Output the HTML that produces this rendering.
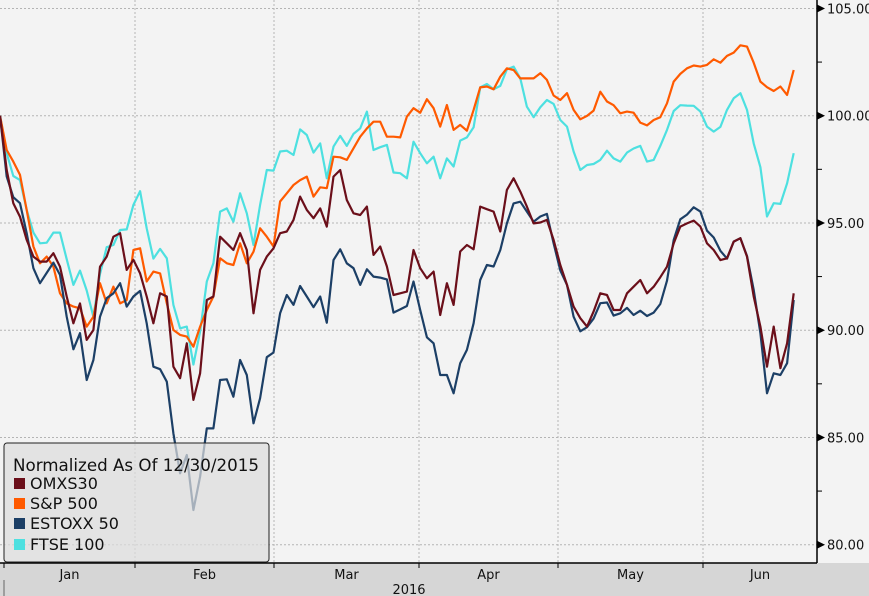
<!DOCTYPE html>
<html><head><meta charset="utf-8"><style>
html,body{margin:0;padding:0;background:#f3f3f3;}
svg{display:block;font-family:"DejaVu Sans","Liberation Sans",sans-serif;}
</style></head><body>
<svg id="chart" width="869" height="596" viewBox="0 0 869 596">
<rect x="0" y="0" width="869" height="596" fill="#f3f3f3"/>
<rect x="0" y="563" width="869" height="33" fill="#d6d6d6"/>
<g id="grid"></g>
<g id="series"></g>
<g id="axes"></g>
<g id="legend">
<rect x="4" y="443" width="265" height="119" rx="3" fill="#dcdcdc" fill-opacity="0.72" stroke="#222" stroke-width="1"/>
<text x="13" y="471" font-size="17" fill="#111" textLength="246" lengthAdjust="spacingAndGlyphs">Normalized As Of 12/30/2015</text>
<g><rect x="14" y="478" width="11" height="11" fill="#6b0f1a"/><text x="30" y="489" font-size="16" fill="#111">OMXS30</text></g>
<g><rect x="14" y="498" width="11" height="11" fill="#ff5a00"/><text x="30" y="509" font-size="16" fill="#111">S&amp;P 500</text></g>
<g><rect x="14" y="518" width="11" height="11" fill="#1c3f66"/><text x="30" y="529" font-size="16" fill="#111">ESTOXX 50</text></g>
<g><rect x="14" y="539" width="11" height="11" fill="#4de0e0"/><text x="30" y="550" font-size="16" fill="#111">FTSE 100</text></g>
</g>
</svg>
<script>
const omxs30 = [100,97.47,95.92,95.29,94.21,93.43,93.20,93.20,93.59,92.96,91.57,90.32,91.25,89.55,90.01,92.96,93.43,94.36,94.52,92.81,93.28,92.65,91.57,90.32,91.72,91.57,88.30,87.76,89.39,86.75,87.99,91.41,91.57,94.36,94.05,93.74,94.52,93.74,90.79,92.81,93.43,93.82,94.52,
94.60,95.14,96.23,95.61,95.22,95.68,94.83,97.16,97.47,96.07,95.45,95.37,95.76,93.51,93.90,92.97,91.64,91.72,91.80,93.74,92.89,92.42,92.73,90.71,92.19,91.18,93.67,93.97,93.77,95.76,95.64,95.53,94.60,96.54,97.08,96.46,95.76,94.98,95.02,95.14,
94.21,93.04,92.11,91.10,90.56,90.17,90.87,91.72,91.64,90.94,90.94,91.72,92.03,92.34,91.72,92.03,92.47,92.96,94.05,94.83,94.98,95.11,94.83,94.05,93.74,93.27,93.35,94.13,94.29,93.43,91.57,90.17,88.30,90.17,88.23,89.39,91.72];
const sp500 = [100,98.40,97.86,97.24,95.60,93.90,93.12,93.43,92.96,91.72,91.25,91.10,91.02,90.17,90.63,92.19,91.25,92.03,91.25,91.41,93.74,93.82,92.27,92.73,92.65,91.25,90.01,89.78,89.70,89.23,90.17,90.94,91.57,93.35,93.12,93.04,94.05,93.12,93.66,94.75,94.36,93.90,96.0,
96.38,96.77,97.00,97.16,96.23,96.66,96.62,98.09,98.06,97.94,98.48,99.02,99.41,99.72,99.72,99.02,99.02,98.99,99.96,100.35,100.14,100.77,100.35,99.49,100.50,99.34,99.57,99.30,100.27,101.32,101.36,101.23,101.82,102.21,102.13,101.74,101.74,101.74,101.98,101.67,
100.94,100.73,101.05,100.27,99.83,99.99,100.24,101.12,100.66,100.49,100.11,100.19,100.14,99.68,99.55,99.80,99.93,100.58,101.59,101.95,102.21,102.34,102.29,102.37,102.63,102.47,102.79,102.94,103.28,103.22,102.47,101.59,101.33,101.15,101.36,100.97,102.13];
const estoxx50 = [100,97.16,96.20,95.92,94.52,92.89,92.19,92.67,93.15,92.58,90.63,89.11,89.86,87.68,88.61,90.63,91.49,91.72,92.19,91.10,91.57,91.83,90.32,88.30,88.18,87.60,85.19,83.33,84.18,81.62,83.17,85.42,85.42,87.68,87.71,86.90,88.61,87.91,85.66,86.83,88.74,88.96,90.79,
91.64,91.18,92.06,91.57,91.07,91.57,90.35,93.27,93.77,93.12,92.89,92.11,92.84,92.50,92.45,92.37,90.82,90.97,91.13,92.27,90.94,89.67,89.39,87.91,87.91,87.06,88.46,89.08,90.32,92.34,93.04,92.97,93.74,94.98,95.91,95.99,95.53,95.06,95.30,95.42,
94.05,92.79,92.11,90.63,89.95,90.14,90.54,91.26,91.29,90.68,90.79,91.04,90.71,90.91,90.66,90.82,91.22,92.31,94.21,95.17,95.39,95.73,95.53,94.64,94.32,93.70,93.34,94.13,94.29,93.46,91.88,89.86,87.06,87.99,87.91,88.46,91.41];
const ftse100 = [100,98.25,97.19,97.00,95.61,94.55,94.05,94.08,94.55,94.55,93.31,92.11,92.78,91.85,90.63,92.62,93.87,93.97,94.67,94.70,95.84,96.48,94.75,93.34,93.79,93.35,91.18,90.09,90.17,88.40,89.93,92.27,93.12,95.53,95.68,95.06,96.38,95.45,93.97,95.84,97.47,97.44,98.33,
98.37,98.17,99.36,99.10,98.28,98.71,97.08,98.56,99.06,98.59,99.15,99.41,100.19,98.40,98.53,98.64,97.35,97.32,97.08,98.79,98.25,97.78,98.09,97.08,98.01,97.63,98.84,98.99,99.46,101.32,101.48,101.23,101.39,102.16,102.29,101.74,100.42,99.93,100.39,100.73,
100.55,99.80,99.49,98.33,97.47,97.70,97.75,97.94,98.37,98.01,97.86,98.28,98.47,98.59,97.86,97.94,98.59,99.34,100.22,100.49,100.47,100.46,100.19,99.49,99.26,99.48,100.27,100.81,101.05,100.27,98.71,97.60,95.30,95.92,95.89,96.85,98.25];
const yTicks = [80,85,90,95,100,105];
const yTickLabels = ["80.00","85.00","90.00","95.00","100.00","105.00"];
const monthLabels = ["Jan","Feb","Mar","Apr","May","Jun"];
const monthStartIdx = [0,20,40,62,83,105];
const yearLabel = "2016";

const NS = "http://www.w3.org/2000/svg";
const plotRight = 817, plotBottom = 563;
function y(v){ return 544.7 - (v - 80) * 21.45; }
function x(i){ return i * 6.67; }
function mk(tag, attrs, parent){ const e = document.createElementNS(NS, tag); for (const k in attrs) e.setAttribute(k, attrs[k]); parent.appendChild(e); return e; }

const grid = document.getElementById('grid');
const axes = document.getElementById('axes');
yTicks.forEach((t, k) => {
  const gl = mk('line', {x1:0, x2:plotRight, y1:y(t), y2:y(t), stroke:'#b4b4b4', 'stroke-dasharray':'2,2'}, grid);
  
  
  const tri = mk('path', {d:`M${plotRight},${y(t)-4}L${plotRight+8},${y(t)}L${plotRight},${y(t)+4}Z`, fill:'#000'}, axes);
  
  
  const lb = mk('text', {x:plotRight+10, y:y(t)+5, 'font-size':13, fill:'#111'}, axes);
  lb.textContent = yTickLabels[k];
  
  
  if (t < 105) {
    const mn = mk('line', {x1:plotRight, x2:plotRight+5, y1:y(t+2.5), y2:y(t+2.5), stroke:'#000'}, axes);
    
    
  }
});
const bounds = [4,135,274,419,558,703,plotRight];
for (let m = 1; m < 6; m++) {
  const gl = mk('line', {x1:bounds[m], x2:bounds[m], y1:0, y2:plotBottom, stroke:'#b4b4b4', 'stroke-dasharray':'2,2'}, grid);
  
  
}
for (let m = 0; m < 6; m++) {
  const tk = mk('line', {x1:bounds[m], x2:bounds[m], y1:plotBottom, y2:plotBottom+5, stroke:'#000'}, axes);
  
  
  const lb = mk('text', {x:(bounds[m]+bounds[m+1])/2, y:579, 'font-size':13, fill:'#111', 'text-anchor':'middle'}, axes);
  lb.textContent = monthLabels[m];
  
  
}
const yl = mk('text', {x:409, y:594, 'font-size':13, fill:'#111', 'text-anchor':'middle'}, axes);
yl.textContent = yearLabel;


const ax1 = mk('line', {x1:plotRight, x2:plotRight, y1:0, y2:plotBottom, stroke:'#000', 'stroke-width':1.5}, axes);


const ax2 = mk('line', {x1:0, x2:plotRight, y1:plotBottom, y2:plotBottom, stroke:'#000', 'stroke-width':1.5}, axes);


const yr = mk('line', {x1:4, x2:4, y1:580, y2:596, stroke:'#666'}, axes);



const seriesG = document.getElementById('series');
function drawLine(vals, color, name){
  const d = vals.map((v,i) => (i ? 'L' : 'M') + x(i).toFixed(1) + ',' + y(v).toFixed(1)).join('');
  const p = mk('path', {d:d, fill:'none', stroke:color, 'stroke-width':2.2, 'stroke-linejoin':'round'}, seriesG);
  
  
}
drawLine(ftse100, '#4de0e0', 'ftse100-line');
drawLine(sp500, '#ff5a00', 'sp500-line');
drawLine(estoxx50, '#1c3f66', 'estoxx50-line');
drawLine(omxs30, '#6b0f1a', 'omxs30-line');
</script>
</body></html>
